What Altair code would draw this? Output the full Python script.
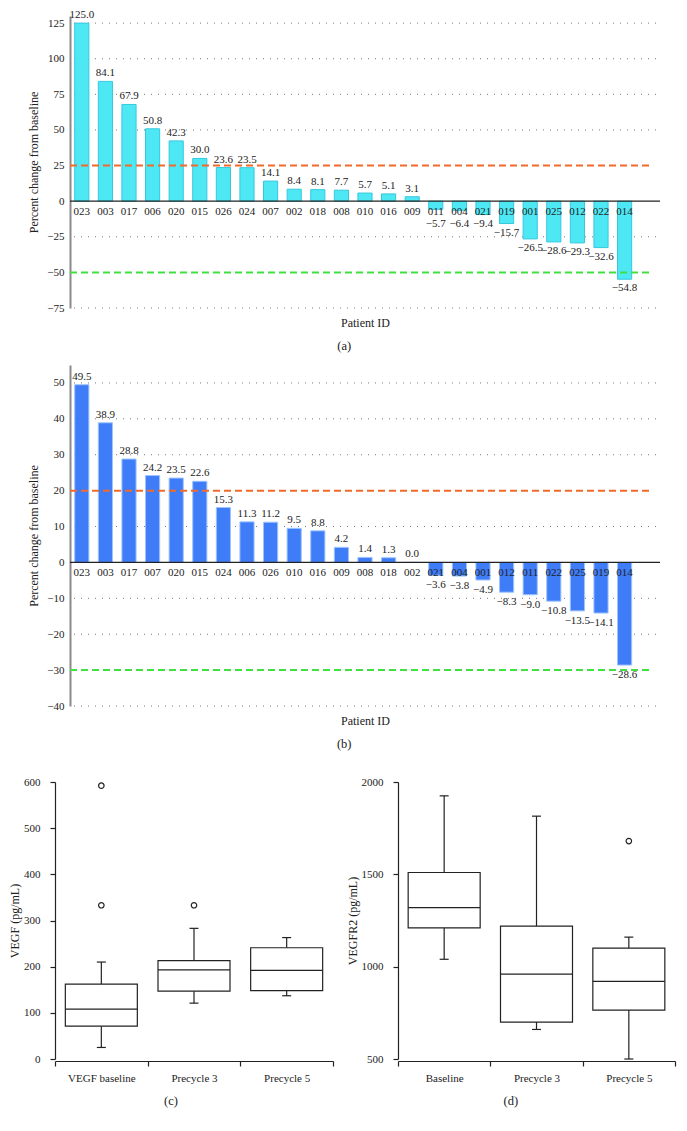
import altair as alt
import pandas as pd

FONT = "Liberation Serif"
INK = "#222222"

# ---- panel (a): VEGF percent change ----
ids_a = ["023", "003", "017", "006", "020", "015", "026", "024", "007", "002", "018", "008",
         "010", "016", "009", "011", "004", "021", "019", "001", "025", "012", "022", "014"]
vals_a = [125.0, 84.1, 67.9, 50.8, 42.3, 30.0, 23.6, 23.5, 14.1, 8.4, 8.1, 7.7,
          5.7, 5.1, 3.1, -5.7, -6.4, -9.4, -15.7, -26.5, -28.6, -29.3, -32.6, -54.8]
ticks_a = [-75, -50, -25, 0, 25, 50, 75, 100, 125]

# ---- panel (b): VEGFR2 percent change ----
ids_b = ["023", "003", "017", "007", "020", "015", "024", "006", "026", "010", "016", "009",
         "008", "018", "002", "021", "004", "001", "012", "011", "022", "025", "019", "014"]
vals_b = [49.5, 38.9, 28.8, 24.2, 23.5, 22.6, 15.3, 11.3, 11.2, 9.5, 8.8, 4.2,
          1.4, 1.3, 0.0, -3.6, -3.8, -4.9, -8.3, -9.0, -10.8, -13.5, -14.1, -28.6]
ticks_b = [-40, -30, -20, -10, 0, 10, 20, 30, 40, 50]

# ---- panel (c): VEGF box plot ----
groups_c = ["VEGF baseline", "Precycle 3", "Precycle 5"]
low_c = [25, 121, 137]
q1_c = [71, 147, 148]
med_c = [108, 193, 192]
q3_c = [162, 213, 241]
high_c = [210, 283, 263]
out_group_c = ["VEGF baseline", "VEGF baseline", "Precycle 3"]
out_val_c = [333, 592, 333]
ticks_c = [0, 100, 200, 300, 400, 500, 600]

# ---- panel (d): VEGFR2 box plot ----
groups_d = ["Baseline", "Precycle 3", "Precycle 5"]
low_d = [1040, 660, 500]
q1_d = [1210, 700, 765]
med_d = [1320, 960, 920]
q3_d = [1510, 1220, 1100]
high_d = [1925, 1815, 1160]
out_group_d = ["Precycle 5"]
out_val_d = [1680]
ticks_d = [500, 1000, 1500, 2000]

MINUS = "replace(datum.label, '-', '\u2212')"


def caption(t, line_height=15):
    return alt.TitleParams(t, orient="bottom", anchor="middle", frame="bounds", offset=12,
                           font=FONT, fontSize=12.5, fontWeight="normal", color=INK,
                           lineHeight=line_height)


def waterfall(ids, vals, fill, stroke, ydom, ticks, upper, lower, neg_floor, neg_dy,
              inset, width, height, cap):
    df = pd.DataFrame({"id": ids, "v": vals})
    domain = ids + ["~"]
    x = alt.X("id:N", sort=domain,
              scale=alt.Scale(domain=domain, range=[inset, width], paddingInner=0.4, paddingOuter=0.2),
              axis=alt.Axis(title="Patient ID", labels=False, ticks=False, domain=False, grid=False,
                            titlePadding=9, titleX=inset + (width - inset) / 2))
    ys = alt.Scale(domain=ydom, nice=False, zero=False)
    yax = alt.Axis(title="Percent change from baseline", values=ticks, grid=False,
                   labelOverlap=False, labelExpr=MINUS, offset=-inset,
                   ticks=False, domainColor="#8a8a8a", domainWidth=2,
                   labelPadding=6, titlePadding=6)
    base = alt.Chart(df)
    grid = alt.Chart(pd.DataFrame({"g": [t for t in ticks if t not in (0, upper, lower)]})).mark_rule(
        color="#777777", strokeDash=[1, 6], strokeWidth=1).encode(
        x=alt.value(inset + 4), x2=alt.value(width - 4), y=alt.Y("g:Q", scale=ys, axis=yax))
    bars = base.mark_bar(fill=fill, stroke=stroke, strokeWidth=1).encode(
        x=x, y=alt.Y("v:Q", scale=ys, axis=yax), y2=alt.datum(0))
    zero = alt.Chart(pd.DataFrame({"z": [0]})).mark_rule(color=INK, strokeWidth=1.3).encode(
        x=alt.value(inset), x2=alt.value(width), y=alt.Y("z:Q", scale=ys, axis=yax))
    up = alt.Chart(pd.DataFrame({"z": [upper]})).mark_rule(
        color="#f26a2a", strokeDash=[7, 4], strokeWidth=2).encode(
        x=alt.value(inset), x2=alt.value(width - 9), y=alt.Y("z:Q", scale=ys, axis=yax))
    lo = alt.Chart(pd.DataFrame({"z": [lower]})).mark_rule(
        color="#3fe03f", strokeDash=[7, 4], strokeWidth=2).encode(
        x=alt.value(inset), x2=alt.value(width - 9), y=alt.Y("z:Q", scale=ys, axis=yax))
    idtxt = base.transform_calculate(z="0").mark_text(
        font=FONT, fontSize=11, dy=11, color=INK, baseline="middle").encode(
        x=x, y=alt.Y("z:Q", scale=ys, axis=yax), text="id:N")
    postxt = base.transform_filter("datum.v >= 0").mark_text(
        font=FONT, fontSize=11, dy=-8, color=INK, baseline="middle").encode(
        x=x, y=alt.Y("v:Q", scale=ys, axis=yax), text=alt.Text("v:Q", format=".1f"))
    negtxt = base.transform_filter("datum.v < 0").transform_calculate(
        ly=f"min(datum.v, {neg_floor})").mark_text(
        font=FONT, fontSize=11, dy=neg_dy, color=INK, baseline="middle").encode(
        x=x, y=alt.Y("ly:Q", scale=ys, axis=yax), text=alt.Text("v:Q", format=".1f"))
    return alt.layer(grid, bars, zero, up, lo, idtxt, postxt, negtxt).properties(
        width=width, height=height, title=cap)


def boxplot(groups, low, q1, med, q3, high, og, ov, ydom, ticks, ytitle, width, height, cap, pin=None):
    df = pd.DataFrame({"g": groups, "low": low, "q1": q1, "med": med, "q3": q3, "high": high})
    odf = pd.DataFrame({"g": og, "v": ov})
    x = alt.X("g:N", sort=groups, scale=alt.Scale(domain=groups),
              axis=alt.Axis(title=None, tickBand="extent", labelAngle=0, domainColor=INK,
                            tickColor=INK, tickSize=5, domainWidth=1.2, tickWidth=1.2,
                            labelPadding=6, offset=2, grid=False))
    ys = alt.Scale(domain=ydom, nice=False, zero=False)
    yax = alt.Axis(title=ytitle, values=ticks, grid=False, domainColor=INK, tickColor=INK,
                   format="d", labelOverlap=False,
                   tickSize=5, domainWidth=1.2, tickWidth=1.2, labelPadding=10, titlePadding=2)
    base = alt.Chart(df)
    wlo = base.mark_rule(color=INK, strokeWidth=1.2).encode(
        x=x, y=alt.Y("low:Q", scale=ys, axis=yax), y2="q1:Q")
    whi = base.mark_rule(color=INK, strokeWidth=1.2).encode(x=x, y="q3:Q", y2="high:Q")
    box = base.mark_bar(size=72, fill="white", stroke=INK, strokeWidth=1.2).encode(
        x=x, y="q1:Q", y2="q3:Q")
    mline = base.mark_tick(size=72, thickness=1.2, color=INK, opacity=1).encode(x=x, y="med:Q")
    clo = base.mark_tick(size=9, thickness=1.2, color=INK, opacity=1).encode(x=x, y="low:Q")
    chi = base.mark_tick(size=9, thickness=1.2, color=INK, opacity=1).encode(x=x, y="high:Q")
    outl = alt.Chart(odf).mark_point(shape="circle", size=30, filled=False, color=INK,
                                     strokeWidth=1.2, opacity=1).encode(x=x, y="v:Q")
    layers = [wlo, whi, box, mline, clo, chi, outl]
    if pin is not None:
        layers.append(alt.Chart(pd.DataFrame({"t": ["."]})).mark_text(
            opacity=0, align="left", fontSize=8).encode(
            x=alt.value(-pin), y=alt.value(100), text="t:N"))
    return alt.layer(*layers).properties(width=width, height=height, title=cap)


chart_a = waterfall(ids_a, vals_a, "#4de8f4", "#36c8de", [-75, 130], ticks_a, 25, -50,
                    -9.4, 9, 15, 605, 292, caption("(a)"))
chart_b = waterfall(ids_b, vals_b, "#3f7cf7", "#9cc4ff", [-40, 55], ticks_b, 20, -30,
                    -3.6, 10, 15, 605, 341, caption(["(b)", " "], line_height=13))
chart_c = boxplot(groups_c, low_c, q1_c, med_c, q3_c, high_c, out_group_c, out_val_c,
                  [0, 600], ticks_c, "VEGF (pg/mL)", 278, 277, caption("(c)"), pin=46)
chart_d = boxplot(groups_d, low_d, q1_d, med_d, q3_d, high_d, out_group_d, out_val_d,
                  [500, 2000], ticks_d, "VEGFR2 (pg/mL)", 277, 277, caption("(d)"))

chart = alt.concat(
    chart_a, chart_b, alt.hconcat(chart_c, chart_d, spacing=10),
    columns=1, align="none", spacing=11
).properties(padding=0).configure_view(stroke="transparent").configure_axis(
    labelFont=FONT, titleFont=FONT, labelFontSize=11, titleFontSize=12,
    titleFontWeight="normal", labelColor=INK, titleColor=INK
)

chart.save("out.html", embed_options={"renderer": "svg", "actions": False})
